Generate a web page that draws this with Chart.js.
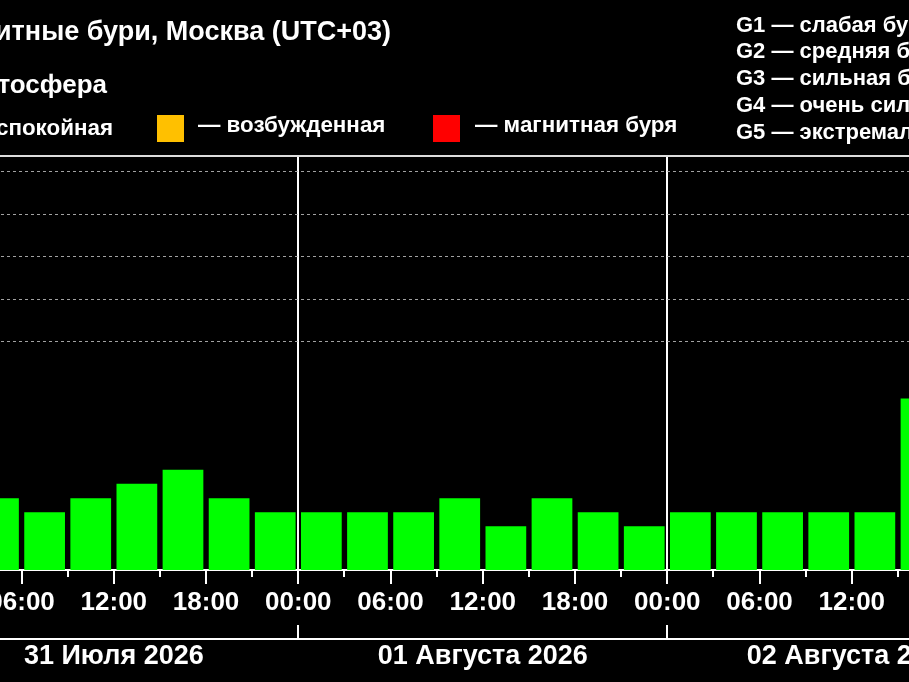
<!DOCTYPE html>
<html>
<head>
<meta charset="utf-8">
<script src="https://cdn.jsdelivr.net/npm/chart.js@4/dist/chart.umd.min.js"></script>
<style>
  html, body { margin:0; padding:0; background:#000; width:909px; height:682px; overflow:hidden; position:relative; }
  #wrap { position:absolute; left:-150px; top:0; width:1200px; height:682px; }
  canvas { display:block; }
  .t { position:absolute; white-space:nowrap; color:#fff; font-family:"Liberation Sans", Arial, sans-serif; font-weight:bold; line-height:1; }
  .sq { position:absolute; width:27px; height:27px; }
</style>
</head>
<body>
<div id="wrap"><canvas id="c" width="1200" height="682"></canvas></div>

<div class="t" style="font-size:27px; right:518px; top:18.2px;" id="title"></div>
<div class="t" style="font-size:26px; right:802px; top:71.3px;" id="subtitle"></div>

<div class="t" style="font-size:22.4px; right:796px; top:114.4px; display:flex; align-items:center;" id="lg0"></div>
<div class="sq" style="left:157px; top:115px;" id="sq1"></div>
<div class="t" style="font-size:22.4px; left:198px; top:114.4px;" id="lg1"></div>
<div class="sq" style="left:433px; top:115px;" id="sq2"></div>
<div class="t" style="font-size:22.4px; left:475px; top:114.4px;" id="lg2"></div>

<div class="t" style="font-size:22px; left:736px; top:13.7px;" id="g0"></div>
<div class="t" style="font-size:22px; left:736px; top:40.4px;" id="g1"></div>
<div class="t" style="font-size:22px; left:736px; top:67.1px;" id="g2"></div>
<div class="t" style="font-size:22px; left:736px; top:93.7px;" id="g3"></div>
<div class="t" style="font-size:22px; left:736px; top:120.7px;" id="g4"></div>

<script>
// ---- data ----
const titleText = 'Магнитные бури, Москва (UTC+03)';
const subtitleText = 'Магнитосфера';
const stateLabels = ['— спокойная', '— возбужденная', '— магнитная буря'];
const stateColors = ['#00FF00', '#FFC000', '#FF0000'];
const stormLevels = ['G1 — слабая буря', 'G2 — средняя буря', 'G3 — сильная буря', 'G4 — очень сильная буря', 'G5 — экстремальная буря'];
const dayLabels = ['31 Июля 2026', '01 Августа 2026', '02 Августа 2026'];
const hourTickLabels = ['00:00', '06:00', '12:00', '18:00'];
// Kp index per 3-hour interval (00-03, 03-06, ...)
const kpJul31 = [1.0, 1.33, 1.0, 1.33, 1.67, 2.0, 1.33, 1.0];
const kpAug01 = [1.0, 1.0, 1.0, 1.33, 0.67, 1.33, 1.0, 0.67];
const kpAug02 = [1.0, 1.0, 1.0, 1.0, 1.0, 3.67];
const stormGridLevels = [5, 6, 7, 8, 9];

// ---- text ----
document.getElementById('title').textContent = titleText;
document.getElementById('subtitle').textContent = subtitleText;
const lg0 = document.getElementById('lg0');
lg0.innerHTML = '<span style="display:inline-block;width:27px;height:27px;background:' + stateColors[0] + ';margin-right:13px;"></span><span>' + stateLabels[0] + '</span>';
document.getElementById('lg1').textContent = stateLabels[1];
document.getElementById('lg2').textContent = stateLabels[2];
document.getElementById('sq1').style.background = stateColors[1];
document.getElementById('sq2').style.background = stateColors[2];
stormLevels.forEach((s, i) => document.getElementById('g' + i).textContent = s);

// ---- chart ----
const HOURS_PER_BAR = 3;
const HOURS_PER_DAY = 24;
const days = [kpJul31, kpAug01, kpAug02];
const X_MAX = days.length * HOURS_PER_DAY;
const points = [];
days.forEach((arr, d) => arr.forEach((v, i) => points.push({ x: d * HOURS_PER_DAY + i * HOURS_PER_BAR + HOURS_PER_BAR / 2, y: v })));

const Y_MIN = -0.355, Y_MAX = 9.375;
const FONT = 'Liberation Sans, Arial, sans-serif';

const noPad = s => { s.paddingLeft = 0; s.paddingRight = 0; };

const extraTicks = {
  id: 'extraTicks',
  afterDraw(chart) {
    const x = chart.scales.x, x2 = chart.scales.x2, ctx = chart.ctx;
    ctx.save();
    ctx.strokeStyle = '#ffffff';
    ctx.lineWidth = 2;
    ctx.beginPath();
    for (let h = HOURS_PER_BAR; h < X_MAX; h += 2 * HOURS_PER_BAR) {
      const px = Math.round(x.getPixelForValue(h));
      ctx.moveTo(px, x.top); ctx.lineTo(px, x.top + 7);
    }
    for (let d = 0; d <= days.length; d++) {
      const px = Math.round(x2.getPixelForValue(d * HOURS_PER_DAY));
      ctx.moveTo(px, x2.top - 14); ctx.lineTo(px, x2.top);
    }
    ctx.stroke();
    ctx.restore();
  }
};

new Chart(document.getElementById('c'), {
  type: 'bar',
  data: {
    datasets: [{
      data: points,
      base: Y_MIN,
      backgroundColor: ctx => {
        const v = ctx.raw ? ctx.raw.y : 0;
        return v >= 5 ? stateColors[2] : (v >= 4 ? stateColors[1] : stateColors[0]);
      },
      borderWidth: 0,
      barPercentage: 0.883,
      categoryPercentage: 1.0
    }]
  },
  options: {
    responsive: false,
    animation: false,
    layout: { padding: { left: 79.3, right: 13.7, top: 155.7, bottom: 0 } },
    plugins: { legend: { display: false }, tooltip: { enabled: false }, title: { display: false } },
    scales: {
      x: {
        type: 'linear', position: 'bottom', weight: 0, min: 0, max: X_MAX, z: 1,
        offset: false,
        afterBuildTicks: s => { const t = []; for (let h = 0; h <= X_MAX; h += HOURS_PER_BAR) t.push({ value: h }); s.ticks = t; },
        afterFit: s => { s.height = 69; noPad(s); },
        ticks: {
          autoSkip: false, maxRotation: 0, minRotation: 0, padding: 3, color: '#ffffff',
          font: { family: FONT, size: 26, weight: 'bold' },
          callback: v => (v % 6 === 0 && v > 0 && v < X_MAX) ? hourTickLabels[(v % 24) / 6] : ''
        },
        grid: {
          offset: false,
          drawOnChartArea: true, drawTicks: true, tickLength: 14,
          color: c => (c.tick && c.tick.value % 24 === 0 && c.tick.value > 0 && c.tick.value < X_MAX) ? '#ffffff' : 'rgba(0,0,0,0)',
          lineWidth: 2,
          tickColor: c => (c.tick && c.tick.value % 6 === 0) ? '#ffffff' : 'rgba(0,0,0,0)',
          tickWidth: 2
        },
        border: { display: true, color: '#ffffff', width: 2 }
      },
      x2: {
        type: 'linear', position: 'bottom', weight: 1, min: 0, max: X_MAX,
        offset: false,
        afterBuildTicks: s => { s.ticks = days.map((_, d) => ({ value: d * HOURS_PER_DAY + HOURS_PER_DAY / 2 })); },
        afterFit: s => { s.height = 43; noPad(s); },
        ticks: {
          autoSkip: false, maxRotation: 0, minRotation: 0, padding: 1, color: '#ffffff',
          font: { family: FONT, size: 27, weight: 'bold' },
          callback: v => dayLabels[Math.floor(v / HOURS_PER_DAY)]
        },
        grid: { display: false, drawTicks: false, offset: false },
        border: { display: true, color: '#ffffff', width: 2 }
      },
      xTop: {
        type: 'linear', position: 'top', min: 0, max: X_MAX,
        offset: false,
        afterFit: s => { s.height = 0; noPad(s); },
        ticks: { display: false },
        grid: { display: false, drawTicks: false, offset: false },
        border: { display: true, color: '#dddddd', width: 2 }
      },
      y: {
        type: 'linear', min: Y_MIN, max: Y_MAX,
        afterBuildTicks: s => { s.ticks = stormGridLevels.map(v => ({ value: v })); },
        afterFit: s => { s.width = 0; },
        ticks: { display: false },
        grid: { color: 'rgba(190,190,190,0.85)', lineWidth: 1, drawTicks: false },
        border: { display: false, dash: [3, 3] }
      }
    }
  },
  plugins: [extraTicks]
});
</script>
</body>
</html>
